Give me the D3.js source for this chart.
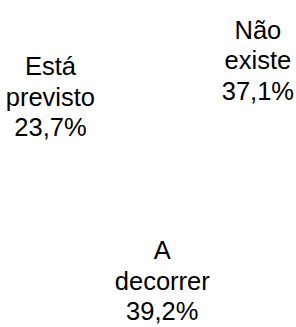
<!DOCTYPE html>
<html><head><meta charset="utf-8">
<script src="https://cdn.jsdelivr.net/npm/d3@7"></script>
<style>html,body{margin:0;padding:0;background:#fff;}svg{display:block;}</style>
</head><body>
<script>
const categories = ["Não existe", "A decorrer", "Está previsto"];
const labelLines = [["Não", "existe"], ["A", "decorrer"], ["Está", "previsto"]];
const values = [37.1, 39.2, 23.7];

const W = 296, H = 327;
const cx = 167, cy = 152;
const startDeg = -22;
const svg = d3.select("body").append("svg").attr("width", W).attr("height", H);
const g = svg.append("g").attr("transform", `translate(${cx},${cy})`);

const pie = d3.pie().sort(null).value(d => d)
  .startAngle(startDeg * Math.PI / 180)
  .endAngle((startDeg + 360) * Math.PI / 180);
const arcs = pie(values);
const arc = d3.arc().innerRadius(0).outerRadius(100);
const labelArc = d3.arc().innerRadius(129).outerRadius(129);

g.selectAll("path.slice").data(arcs).enter().append("path")
  .attr("class", "slice").attr("d", arc)
  .attr("fill", "#ffffff").attr("stroke", "#ffffff");

const fmt = v => v.toFixed(1).replace(".", ",") + "%";
const lh = 30.5;
const lbl = g.selectAll("text.lbl").data(arcs).enter().append("text")
  .attr("class", "lbl")
  .attr("text-anchor", "middle")
  .attr("font-family", "Liberation Sans, Arial, sans-serif")
  .attr("font-size", 25.5)
  .attr("fill", "#000");
lbl.each(function(d, i) {
  const [x, y] = labelArc.centroid(d);
  const t = d3.select(this);
  const lines = labelLines[i].concat([fmt(values[i])]);
  lines.forEach((s, k) => {
    t.append("tspan").attr("x", x).attr("y", y + 9 + (k - 1) * lh).text(s);
  });
});
</script>
</body></html>
